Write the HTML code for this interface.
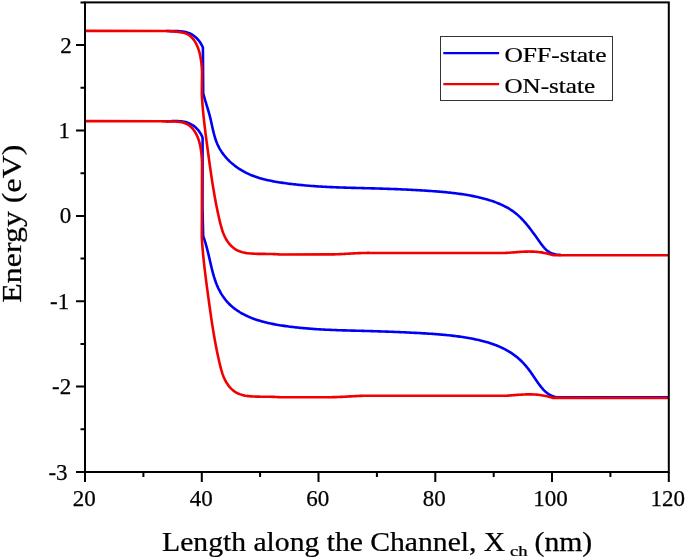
<!DOCTYPE html>
<html><head><meta charset="utf-8"><title>Energy band diagram</title>
<style>
html,body{margin:0;padding:0;background:#fff;}
svg{display:block;}
text{font-family:"Liberation Serif","Times New Roman",serif;fill:#000;stroke:#000;stroke-width:0.25px;}
</style></head>
<body>
<svg width="685" height="559" viewBox="0 0 685 559">
<rect width="685" height="559" fill="#fff"/>
<g fill="none" stroke-width="2.6" stroke-linejoin="round" stroke-linecap="butt">
<path stroke="#0000f4" d="M166.00 30.95 L167.51 31.02 L169.02 31.06 L170.54 31.08 L172.05 31.08 L173.56 31.08 L175.08 31.08 L176.59 31.10 L178.10 31.13 L179.61 31.20 L181.12 31.31 L182.62 31.48 L184.12 31.70 L185.60 32.00 L187.07 32.39 L188.50 32.87 L189.90 33.45 L191.25 34.13 L192.55 34.90 L193.80 35.75 L194.99 36.68 L196.13 37.68 L197.20 38.75 L198.22 39.87 L199.17 41.05 L200.05 42.27 L200.87 43.55 L201.62 44.86 L202.30 46.21 L202.90 47.60 L203.20 93.30 L203.58 94.76 L203.97 96.21 L204.38 97.66 L204.80 99.10 L205.22 100.55 L205.66 101.99 L206.10 103.43 L206.54 104.87 L206.98 106.30 L207.42 107.74 L207.86 109.18 L208.29 110.63 L208.71 112.07 L209.12 113.52 L209.52 114.97 L209.90 116.43 L210.27 117.89 L210.62 119.35 L210.96 120.82 L211.28 122.29 L211.61 123.76 L211.93 125.23 L212.25 126.70 L212.58 128.17 L212.91 129.63 L213.25 131.10 L213.61 132.56 L213.98 134.02 L214.37 135.47 L214.79 136.92 L215.23 138.36 L215.70 139.79 L216.20 141.20 L216.74 142.61 L217.32 144.00 L217.95 145.37 L218.61 146.72 L219.31 148.05 L220.06 149.36 L220.84 150.64 L221.66 151.90 L222.52 153.14 L223.41 154.36 L224.33 155.54 L225.29 156.71 L226.27 157.84 L227.29 158.95 L228.33 160.04 L229.40 161.10 L230.50 162.13 L231.62 163.13 L232.77 164.11 L233.93 165.06 L235.12 165.98 L236.33 166.88 L237.56 167.74 L238.81 168.59 L240.08 169.40 L241.36 170.19 L242.66 170.94 L243.97 171.67 L245.30 172.38 L246.65 173.05 L248.01 173.70 L249.38 174.32 L250.76 174.92 L252.16 175.48 L253.56 176.02 L254.97 176.54 L256.40 177.03 L257.83 177.50 L259.26 177.95 L260.71 178.38 L262.16 178.78 L263.61 179.17 L265.07 179.54 L266.53 179.89 L268.00 180.22 L269.47 180.54 L270.95 180.84 L272.42 181.13 L273.90 181.41 L275.38 181.67 L276.87 181.93 L278.35 182.17 L279.84 182.41 L281.33 182.63 L282.82 182.85 L284.31 183.07 L285.80 183.27 L287.29 183.47 L288.78 183.67 L290.27 183.86 L291.77 184.04 L293.26 184.22 L294.76 184.39 L296.25 184.55 L297.75 184.71 L299.25 184.87 L300.74 185.02 L302.24 185.16 L303.74 185.30 L305.24 185.44 L306.74 185.56 L308.24 185.69 L309.74 185.81 L311.24 185.93 L312.74 186.04 L314.24 186.15 L315.74 186.25 L317.25 186.35 L318.75 186.44 L320.25 186.54 L321.75 186.62 L323.26 186.71 L324.76 186.79 L326.26 186.87 L327.76 186.94 L329.27 187.02 L330.77 187.09 L332.27 187.15 L333.78 187.22 L335.28 187.28 L336.79 187.34 L338.29 187.40 L339.79 187.45 L341.30 187.50 L342.80 187.55 L344.31 187.60 L345.81 187.65 L347.31 187.70 L348.82 187.74 L350.32 187.79 L351.83 187.83 L353.33 187.87 L354.84 187.91 L356.34 187.95 L357.85 187.99 L359.35 188.03 L360.86 188.07 L362.36 188.11 L363.86 188.14 L365.37 188.18 L366.87 188.22 L368.38 188.26 L369.88 188.30 L371.39 188.34 L372.89 188.38 L374.40 188.42 L375.90 188.46 L377.41 188.50 L378.91 188.54 L380.41 188.59 L381.92 188.63 L383.42 188.68 L384.93 188.73 L386.43 188.78 L387.94 188.83 L389.44 188.89 L390.94 188.94 L392.45 189.00 L393.95 189.05 L395.46 189.11 L396.96 189.17 L398.46 189.23 L399.97 189.30 L401.47 189.36 L402.97 189.43 L404.48 189.50 L405.98 189.57 L407.48 189.64 L408.99 189.72 L410.49 189.79 L411.99 189.87 L413.50 189.95 L415.00 190.03 L416.50 190.12 L418.00 190.20 L419.51 190.29 L421.01 190.38 L422.51 190.47 L424.01 190.57 L425.51 190.67 L427.02 190.76 L428.52 190.87 L430.02 190.97 L431.52 191.07 L433.02 191.18 L434.52 191.29 L436.02 191.41 L437.52 191.52 L439.02 191.64 L440.52 191.77 L442.02 191.89 L443.52 192.03 L445.02 192.16 L446.52 192.31 L448.02 192.45 L449.52 192.61 L451.01 192.77 L452.51 192.93 L454.00 193.11 L455.50 193.29 L456.99 193.48 L458.48 193.67 L459.97 193.88 L461.46 194.09 L462.95 194.31 L464.44 194.55 L465.92 194.79 L467.41 195.04 L468.89 195.30 L470.37 195.57 L471.85 195.85 L473.33 196.14 L474.80 196.45 L476.27 196.76 L477.74 197.09 L479.21 197.43 L480.67 197.78 L482.13 198.14 L483.59 198.52 L485.04 198.91 L486.49 199.31 L487.94 199.73 L489.38 200.17 L490.81 200.62 L492.24 201.10 L493.66 201.59 L495.08 202.10 L496.49 202.63 L497.89 203.18 L499.28 203.75 L500.66 204.35 L502.03 204.97 L503.39 205.62 L504.74 206.29 L506.07 206.99 L507.39 207.71 L508.69 208.47 L509.98 209.25 L511.24 210.07 L512.49 210.91 L513.71 211.79 L514.91 212.69 L516.09 213.63 L517.24 214.60 L518.37 215.60 L519.48 216.62 L520.56 217.66 L521.62 218.73 L522.66 219.82 L523.68 220.92 L524.68 222.05 L525.67 223.18 L526.64 224.34 L527.59 225.50 L528.53 226.67 L529.46 227.86 L530.38 229.05 L531.28 230.25 L532.18 231.46 L533.07 232.67 L533.96 233.89 L534.84 235.11 L535.72 236.34 L536.59 237.56 L537.46 238.79 L538.34 240.01 L539.21 241.23 L540.09 242.46 L540.98 243.67 L541.88 244.88 L542.80 246.07 L543.76 247.23 L544.76 248.35 L545.82 249.42 L546.95 250.42 L548.14 251.34 L549.41 252.15 L550.74 252.85 L552.13 253.41 L553.57 253.85 L555.04 254.20 L556.52 254.47 L558.01 254.69 L559.50 254.86 L561.00 255.00"/>
<path stroke="#0000f4" d="M166.00 121.40 L167.51 121.33 L169.01 121.26 L170.52 121.19 L172.03 121.13 L173.54 121.09 L175.05 121.07 L176.55 121.08 L178.06 121.12 L179.57 121.21 L181.07 121.34 L182.57 121.53 L184.06 121.79 L185.53 122.12 L186.98 122.52 L188.40 123.02 L189.79 123.61 L191.14 124.29 L192.44 125.05 L193.69 125.90 L194.88 126.82 L196.02 127.82 L197.09 128.88 L198.09 130.00 L199.03 131.18 L199.90 132.42 L200.69 133.70 L201.41 135.03 L202.05 136.40 L202.60 137.80 L202.50 208.00 L203.20 236.10 L203.70 237.52 L204.18 238.94 L204.65 240.37 L205.10 241.80 L205.53 243.24 L205.95 244.68 L206.36 246.13 L206.75 247.58 L207.14 249.03 L207.51 250.49 L207.88 251.95 L208.24 253.40 L208.59 254.87 L208.94 256.33 L209.28 257.79 L209.62 259.25 L209.96 260.72 L210.29 262.18 L210.63 263.65 L210.97 265.11 L211.31 266.58 L211.66 268.04 L212.02 269.50 L212.39 270.95 L212.77 272.41 L213.16 273.86 L213.57 275.30 L213.99 276.74 L214.44 278.18 L214.90 279.61 L215.39 281.03 L215.90 282.45 L216.43 283.85 L216.99 285.24 L217.59 286.62 L218.21 287.99 L218.86 289.34 L219.55 290.68 L220.26 292.00 L221.01 293.31 L221.79 294.59 L222.61 295.85 L223.45 297.10 L224.33 298.31 L225.24 299.51 L226.19 300.68 L227.17 301.81 L228.18 302.93 L229.23 304.00 L230.30 305.05 L231.41 306.06 L232.55 307.04 L233.72 307.99 L234.91 308.90 L236.13 309.79 L237.37 310.64 L238.63 311.46 L239.90 312.25 L241.20 313.01 L242.51 313.75 L243.84 314.45 L245.18 315.13 L246.53 315.79 L247.89 316.42 L249.27 317.02 L250.66 317.60 L252.05 318.16 L253.46 318.69 L254.87 319.20 L256.29 319.69 L257.72 320.16 L259.15 320.61 L260.59 321.04 L262.04 321.45 L263.49 321.84 L264.94 322.22 L266.40 322.57 L267.87 322.92 L269.33 323.24 L270.80 323.56 L272.27 323.86 L273.75 324.15 L275.23 324.42 L276.71 324.69 L278.19 324.94 L279.67 325.19 L281.15 325.42 L282.64 325.65 L284.12 325.87 L285.61 326.09 L287.10 326.29 L288.59 326.49 L290.08 326.69 L291.57 326.87 L293.06 327.05 L294.56 327.23 L296.05 327.40 L297.54 327.56 L299.04 327.71 L300.53 327.87 L302.03 328.01 L303.52 328.15 L305.02 328.28 L306.52 328.41 L308.02 328.54 L309.51 328.66 L311.01 328.77 L312.51 328.88 L314.01 328.99 L315.51 329.09 L317.01 329.18 L318.51 329.28 L320.01 329.36 L321.51 329.45 L323.01 329.53 L324.51 329.61 L326.01 329.68 L327.51 329.76 L329.01 329.82 L330.51 329.89 L332.02 329.95 L333.52 330.01 L335.02 330.07 L336.52 330.13 L338.02 330.18 L339.52 330.23 L341.03 330.28 L342.53 330.33 L344.03 330.38 L345.53 330.42 L347.03 330.46 L348.54 330.51 L350.04 330.55 L351.54 330.59 L353.04 330.63 L354.54 330.67 L356.05 330.71 L357.55 330.75 L359.05 330.79 L360.55 330.82 L362.05 330.86 L363.56 330.90 L365.06 330.94 L366.56 330.98 L368.06 331.02 L369.57 331.06 L371.07 331.11 L372.57 331.15 L374.07 331.20 L375.57 331.24 L377.08 331.29 L378.58 331.34 L380.08 331.38 L381.58 331.43 L383.08 331.49 L384.58 331.54 L386.09 331.59 L387.59 331.65 L389.09 331.70 L390.59 331.76 L392.09 331.82 L393.59 331.87 L395.10 331.93 L396.60 332.00 L398.10 332.06 L399.60 332.12 L401.10 332.19 L402.60 332.25 L404.10 332.32 L405.60 332.39 L407.11 332.46 L408.61 332.53 L410.11 332.61 L411.61 332.68 L413.11 332.76 L414.61 332.83 L416.11 332.91 L417.61 332.99 L419.11 333.07 L420.61 333.16 L422.11 333.24 L423.61 333.33 L425.11 333.42 L426.61 333.51 L428.11 333.60 L429.61 333.70 L431.11 333.80 L432.61 333.90 L434.11 334.01 L435.61 334.12 L437.11 334.23 L438.60 334.35 L440.10 334.48 L441.60 334.61 L443.10 334.74 L444.59 334.88 L446.09 335.02 L447.58 335.18 L449.08 335.33 L450.57 335.50 L452.06 335.66 L453.56 335.84 L455.05 336.02 L456.54 336.21 L458.03 336.41 L459.52 336.62 L461.00 336.83 L462.49 337.05 L463.98 337.28 L465.46 337.52 L466.94 337.77 L468.42 338.02 L469.90 338.29 L471.38 338.56 L472.85 338.84 L474.33 339.14 L475.80 339.44 L477.27 339.76 L478.73 340.09 L480.20 340.43 L481.66 340.79 L483.11 341.16 L484.57 341.54 L486.01 341.94 L487.46 342.36 L488.90 342.80 L490.33 343.25 L491.76 343.72 L493.18 344.21 L494.59 344.72 L496.00 345.25 L497.39 345.80 L498.78 346.37 L500.16 346.97 L501.53 347.59 L502.89 348.24 L504.23 348.90 L505.57 349.60 L506.89 350.32 L508.19 351.06 L509.48 351.84 L510.75 352.64 L512.01 353.46 L513.24 354.32 L514.46 355.20 L515.65 356.11 L516.83 357.05 L517.98 358.01 L519.12 359.00 L520.23 360.01 L521.32 361.04 L522.38 362.10 L523.43 363.19 L524.44 364.29 L525.44 365.42 L526.40 366.57 L527.35 367.74 L528.27 368.92 L529.18 370.12 L530.06 371.33 L530.94 372.56 L531.80 373.79 L532.66 375.02 L533.51 376.26 L534.35 377.50 L535.20 378.75 L536.04 379.99 L536.90 381.23 L537.75 382.46 L538.63 383.68 L539.51 384.90 L540.42 386.09 L541.36 387.27 L542.32 388.42 L543.33 389.54 L544.37 390.62 L545.46 391.65 L546.60 392.63 L547.79 393.54 L549.04 394.38 L550.35 395.13 L551.70 395.78 L553.10 396.32 L554.54 396.75 L556.01 397.06 L557.50 397.26 L559.00 397.34 L560.50 397.32 L562.00 397.20 L669.00 397.40"/>
<path stroke="#f00000" d="M85.00 30.90 L168.00 30.95 L169.50 31.15 L171.01 31.30 L172.51 31.42 L174.02 31.53 L175.53 31.65 L177.04 31.77 L178.55 31.92 L180.05 32.11 L181.54 32.35 L183.02 32.65 L184.49 33.04 L185.92 33.53 L187.31 34.13 L188.63 34.87 L189.87 35.73 L191.02 36.71 L192.09 37.78 L193.08 38.93 L193.98 40.14 L194.82 41.40 L195.59 42.71 L196.30 44.04 L196.95 45.41 L197.55 46.80 L198.10 48.21 L198.60 49.63 L199.06 51.08 L199.47 52.53 L199.84 54.00 L200.17 55.48 L200.47 56.96 L200.73 58.45 L200.96 59.95 L201.17 61.45 L201.35 62.95 L201.51 64.45 L201.65 65.96 L201.77 67.47 L201.88 68.98 L201.97 70.49 L202.05 72.00 L201.80 94.30 L201.89 95.81 L201.98 97.31 L202.07 98.82 L202.18 100.32 L202.28 101.83 L202.40 103.33 L202.52 104.83 L202.64 106.34 L202.77 107.84 L202.90 109.34 L203.04 110.84 L203.18 112.34 L203.33 113.84 L203.48 115.35 L203.63 116.85 L203.79 118.35 L203.95 119.84 L204.12 121.34 L204.28 122.84 L204.45 124.34 L204.63 125.84 L204.81 127.34 L204.99 128.83 L205.17 130.33 L205.35 131.83 L205.54 133.32 L205.73 134.82 L205.92 136.32 L206.11 137.81 L206.31 139.31 L206.50 140.80 L206.70 142.30 L206.90 143.79 L207.10 145.29 L207.30 146.78 L207.50 148.28 L207.70 149.77 L207.91 151.27 L208.11 152.76 L208.31 154.26 L208.51 155.75 L208.72 157.24 L208.92 158.74 L209.13 160.23 L209.33 161.73 L209.54 163.22 L209.75 164.71 L209.96 166.21 L210.17 167.70 L210.38 169.19 L210.59 170.69 L210.81 172.18 L211.02 173.67 L211.24 175.16 L211.47 176.66 L211.69 178.15 L211.91 179.64 L212.14 181.13 L212.37 182.62 L212.61 184.11 L212.85 185.60 L213.09 187.09 L213.33 188.58 L213.58 190.06 L213.83 191.55 L214.08 193.04 L214.34 194.52 L214.60 196.01 L214.87 197.49 L215.14 198.98 L215.41 200.46 L215.69 201.94 L215.97 203.42 L216.26 204.90 L216.55 206.38 L216.85 207.86 L217.15 209.34 L217.46 210.82 L217.77 212.29 L218.09 213.77 L218.41 215.24 L218.74 216.71 L219.07 218.18 L219.41 219.65 L219.76 221.12 L220.11 222.59 L220.48 224.05 L220.86 225.51 L221.26 226.96 L221.68 228.41 L222.13 229.85 L222.60 231.28 L223.12 232.70 L223.67 234.10 L224.26 235.49 L224.89 236.86 L225.58 238.20 L226.31 239.52 L227.10 240.80 L227.95 242.05 L228.86 243.26 L229.82 244.42 L230.84 245.52 L231.92 246.58 L233.06 247.57 L234.25 248.49 L235.51 249.33 L236.81 250.09 L238.16 250.75 L239.56 251.33 L240.98 251.82 L242.43 252.24 L243.90 252.59 L245.38 252.88 L246.87 253.11 L248.36 253.30 L249.86 253.46 L251.37 253.57 L252.87 253.67 L254.38 253.74 L255.89 253.79 L257.39 253.83 L258.90 253.86 L260.41 253.88 L261.92 253.90 L263.42 253.91 L264.93 253.92 L266.44 253.93 L267.95 253.94 L269.46 253.96 L270.96 253.99 L272.47 254.03 L273.98 254.08 L275.49 254.14 L276.99 254.22 L278.50 254.33 L280.00 254.45 L330.00 254.40 L331.50 254.39 L333.00 254.36 L334.50 254.33 L336.00 254.28 L337.50 254.23 L339.00 254.17 L340.50 254.10 L342.00 254.03 L343.50 253.96 L345.00 253.88 L346.50 253.79 L348.00 253.71 L349.50 253.62 L351.00 253.54 L352.50 253.46 L353.99 253.38 L355.49 253.30 L356.99 253.23 L358.49 253.16 L359.99 253.10 L361.49 253.05 L362.99 253.00 L364.49 252.96 L366.00 252.94 L367.50 252.92 L369.00 252.92 L370.50 252.93 L372.00 252.95 L450.00 253.00 L505.00 253.00 L506.51 252.90 L508.02 252.80 L509.53 252.69 L511.04 252.57 L512.54 252.46 L514.05 252.34 L515.56 252.22 L517.07 252.11 L518.58 252.00 L520.09 251.90 L521.60 251.81 L523.11 251.73 L524.62 251.67 L526.13 251.62 L527.64 251.58 L529.15 251.57 L530.67 251.58 L532.18 251.61 L533.69 251.67 L535.20 251.75 L536.71 251.87 L538.21 252.02 L539.72 252.19 L541.21 252.41 L542.71 252.65 L544.19 252.92 L545.68 253.22 L547.15 253.55 L548.62 253.90 L550.09 254.28 L551.55 254.68 L553.00 255.10 L669.00 255.20"/>
<path stroke="#f00000" d="M85.00 121.10 L160.00 121.20 L161.52 121.31 L163.04 121.37 L164.57 121.40 L166.09 121.41 L167.61 121.41 L169.14 121.41 L170.66 121.41 L172.18 121.43 L173.71 121.47 L175.23 121.53 L176.75 121.63 L178.27 121.78 L179.78 121.98 L181.28 122.24 L182.76 122.58 L184.23 123.01 L185.66 123.53 L187.04 124.17 L188.36 124.92 L189.61 125.80 L190.78 126.77 L191.87 127.84 L192.88 128.98 L193.81 130.18 L194.68 131.44 L195.48 132.73 L196.21 134.07 L196.89 135.44 L197.50 136.83 L198.07 138.24 L198.58 139.68 L199.04 141.13 L199.45 142.60 L199.83 144.08 L200.16 145.56 L200.46 147.06 L200.72 148.56 L200.95 150.06 L201.16 151.57 L201.34 153.09 L201.50 154.60 L201.64 156.12 L201.76 157.64 L201.87 159.16 L201.96 160.68 L202.05 162.20 L201.80 237.10 L201.89 238.61 L201.98 240.11 L202.07 241.62 L202.18 243.12 L202.28 244.63 L202.40 246.13 L202.52 247.63 L202.64 249.14 L202.77 250.64 L202.90 252.14 L203.04 253.64 L203.18 255.14 L203.33 256.64 L203.48 258.15 L203.63 259.65 L203.79 261.15 L203.95 262.64 L204.12 264.14 L204.28 265.64 L204.45 267.14 L204.63 268.64 L204.81 270.14 L204.99 271.63 L205.17 273.13 L205.35 274.63 L205.54 276.12 L205.73 277.62 L205.92 279.12 L206.11 280.61 L206.31 282.11 L206.50 283.60 L206.70 285.10 L206.90 286.59 L207.10 288.09 L207.30 289.58 L207.50 291.08 L207.70 292.57 L207.91 294.07 L208.11 295.56 L208.31 297.06 L208.51 298.55 L208.72 300.04 L208.92 301.54 L209.13 303.03 L209.33 304.53 L209.54 306.02 L209.75 307.51 L209.96 309.01 L210.17 310.50 L210.38 311.99 L210.59 313.49 L210.81 314.98 L211.02 316.47 L211.24 317.96 L211.47 319.46 L211.69 320.95 L211.91 322.44 L212.14 323.93 L212.37 325.42 L212.61 326.91 L212.85 328.40 L213.09 329.89 L213.33 331.38 L213.58 332.86 L213.83 334.35 L214.08 335.84 L214.34 337.32 L214.60 338.81 L214.87 340.29 L215.14 341.78 L215.41 343.26 L215.69 344.74 L215.97 346.22 L216.26 347.70 L216.55 349.18 L216.85 350.66 L217.15 352.14 L217.46 353.62 L217.77 355.09 L218.09 356.57 L218.41 358.04 L218.74 359.51 L219.07 360.98 L219.41 362.45 L219.76 363.92 L220.11 365.39 L220.48 366.85 L220.86 368.31 L221.26 369.76 L221.68 371.21 L222.13 372.65 L222.60 374.08 L223.12 375.50 L223.67 376.90 L224.26 378.29 L224.89 379.66 L225.58 381.00 L226.31 382.32 L227.10 383.60 L227.95 384.85 L228.86 386.06 L229.82 387.22 L230.84 388.32 L231.92 389.38 L233.06 390.37 L234.25 391.29 L235.51 392.13 L236.81 392.89 L238.16 393.55 L239.56 394.13 L240.98 394.62 L242.43 395.04 L243.90 395.39 L245.38 395.68 L246.87 395.91 L248.36 396.10 L249.86 396.26 L251.37 396.37 L252.87 396.47 L254.38 396.54 L255.89 396.59 L257.39 396.63 L258.90 396.66 L260.41 396.68 L261.92 396.70 L263.42 396.71 L264.93 396.72 L266.44 396.73 L267.95 396.74 L269.46 396.76 L270.96 396.79 L272.47 396.83 L273.98 396.88 L275.49 396.94 L276.99 397.02 L278.50 397.13 L280.00 397.25 L330.00 397.20 L331.50 397.19 L333.00 397.16 L334.50 397.13 L336.00 397.08 L337.50 397.03 L339.00 396.97 L340.50 396.90 L342.00 396.83 L343.50 396.76 L345.00 396.68 L346.50 396.59 L348.00 396.51 L349.50 396.42 L351.00 396.34 L352.50 396.26 L353.99 396.18 L355.49 396.10 L356.99 396.03 L358.49 395.96 L359.99 395.90 L361.49 395.85 L362.99 395.80 L364.49 395.76 L366.00 395.74 L367.50 395.72 L369.00 395.72 L370.50 395.73 L372.00 395.75 L450.00 395.80 L505.00 395.80 L506.51 395.70 L508.02 395.60 L509.53 395.49 L511.04 395.37 L512.54 395.26 L514.05 395.14 L515.56 395.02 L517.07 394.91 L518.58 394.80 L520.09 394.70 L521.60 394.61 L523.11 394.53 L524.62 394.47 L526.13 394.42 L527.64 394.38 L529.15 394.37 L530.67 394.38 L532.18 394.41 L533.69 394.47 L535.20 394.55 L536.71 394.67 L538.21 394.82 L539.72 394.99 L541.21 395.21 L542.71 395.45 L544.19 395.72 L545.68 396.02 L547.15 396.35 L548.62 396.70 L550.09 397.08 L551.55 397.48 L553.00 397.90 L669.00 398.00"/>
</g>
<rect x="85.0" y="2.4" width="583.8" height="469.6" fill="none" stroke="#000" stroke-width="2"/>
<path d="M85.0 472.0 V482.0 M201.8 472.0 V482.0 M318.5 472.0 V482.0 M435.3 472.0 V482.0 M552.0 472.0 V482.0 M668.8 472.0 V482.0 M143.4 472.0 V477.0 M260.1 472.0 V477.0 M376.9 472.0 V477.0 M493.7 472.0 V477.0 M610.4 472.0 V477.0 M85.0 472.0 H76.0 M85.0 386.6 H76.0 M85.0 301.2 H76.0 M85.0 215.9 H76.0 M85.0 130.5 H76.0 M85.0 45.1 H76.0 M85.0 429.3 H80.5 M85.0 343.9 H80.5 M85.0 258.5 H80.5 M85.0 173.2 H80.5 M85.0 87.8 H80.5 M85.0 2.4 H80.5" stroke="#000" stroke-width="2" fill="none"/>
<rect x="440.5" y="36.5" width="172" height="64" fill="#fff" stroke="#333" stroke-width="1"/>
<path d="M443.3 53.2 H499.1" stroke="#0000f4" stroke-width="2.3"/>
<path d="M443.3 84.1 H499.1" stroke="#f00000" stroke-width="2.3"/>
<text transform="translate(72.78 506.30) scale(1.0000 1)" font-size="23">20</text>
<text transform="translate(189.75 506.30) scale(1.0000 1)" font-size="23">40</text>
<text transform="translate(306.33 506.30) scale(1.0000 1)" font-size="23">60</text>
<text transform="translate(422.80 506.30) scale(1.0000 1)" font-size="23">80</text>
<text transform="translate(533.23 506.30) scale(1.0000 1)" font-size="23">100</text>
<text transform="translate(650.38 506.30) scale(1.0000 1)" font-size="23">120</text>
<text transform="translate(60.15 52.59) scale(1.0000 1)" font-size="23">2</text>
<text transform="translate(58.55 137.97) scale(1.0000 1)" font-size="23">1</text>
<text transform="translate(59.85 223.35) scale(1.0000 1)" font-size="23">0</text>
<text transform="translate(50.10 308.74) scale(1.0000 1)" font-size="23">-1</text>
<text transform="translate(52.10 394.12) scale(1.0000 1)" font-size="23">-2</text>
<text transform="translate(48.40 479.50) scale(1.0000 1)" font-size="23">-3</text>
<text transform="translate(504.43 61.60) scale(1.1607 1)" font-size="22">OFF-state</text>
<text transform="translate(504.44 92.60) scale(1.1410 1)" font-size="22">ON-state</text>
<text transform="translate(162.08 551.00) scale(1.0979 1)" font-size="27">Length along the Channel, X</text>
<text transform="translate(510.08 555.60) scale(1.2444 1)" font-size="15">ch</text>
<text transform="translate(534.50 551.00) scale(1.1010 1)" font-size="27">(nm)</text>
<text transform="translate(21.30 302.69) rotate(-90) scale(1.1825 1)" font-size="27">Energy (eV)</text>
</svg>
</body></html>
